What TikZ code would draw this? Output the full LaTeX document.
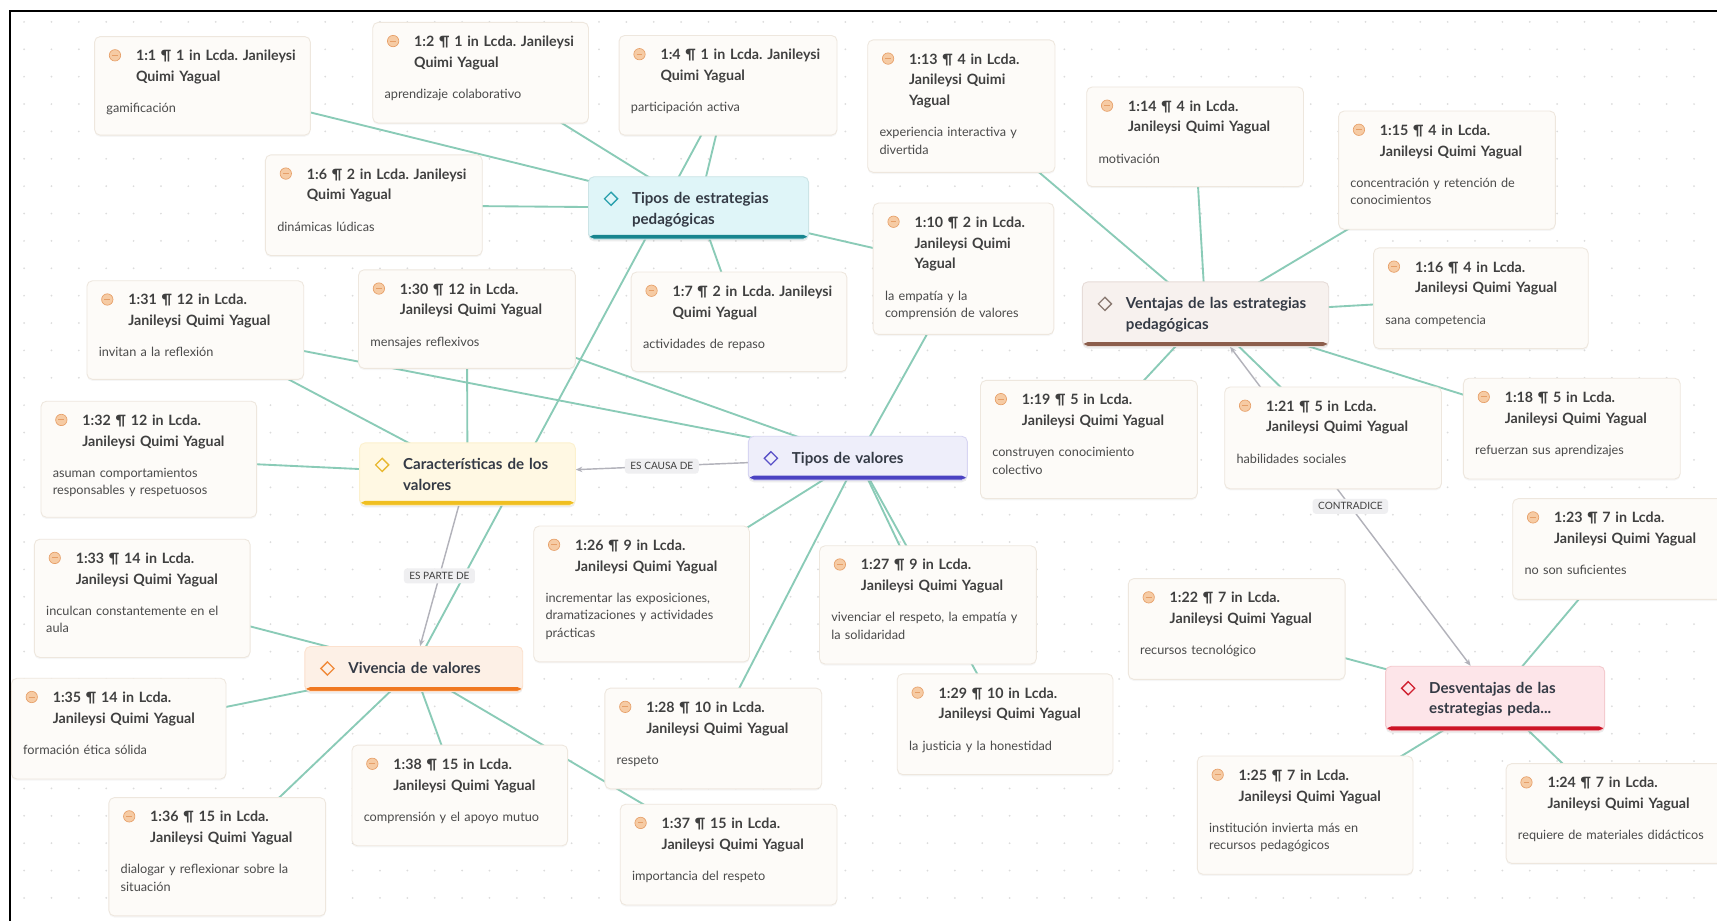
\documentclass[tikz,border=0pt]{standalone}
\usepackage{fontspec}
\setmainfont{Lato}
\usetikzlibrary{shadows,arrows.meta,backgrounds}

\definecolor{linkc}{HTML}{8ACBB7}
\definecolor{relc}{HTML}{B2B2BA}
\definecolor{qfill}{HTML}{FDFBF8}
\definecolor{qdraw}{HTML}{EEE7DE}
\definecolor{qtext}{HTML}{404040}
\definecolor{ctext}{HTML}{4A4A4A}
\definecolor{icfill}{HTML}{F6CBA4}
\definecolor{icdraw}{HTML}{E69F68}
\definecolor{dotc}{HTML}{DCDCDC}
\definecolor{lablc}{HTML}{EFEFF1}
\definecolor{codetext}{HTML}{343A45}
\definecolor{fillA}{HTML}{DFF5F8}\definecolor{barA}{HTML}{17858F}\definecolor{dmA}{HTML}{2AA0AD}
\definecolor{fillB}{HTML}{F7F1EE}\definecolor{barB}{HTML}{8C5E4C}\definecolor{dmB}{HTML}{8A7A72}
\definecolor{fillC}{HTML}{EEEEFA}\definecolor{barC}{HTML}{4A42C2}\definecolor{dmC}{HTML}{5A52C8}
\definecolor{fillD}{HTML}{FFF8E3}\definecolor{barD}{HTML}{F0BF20}\definecolor{dmD}{HTML}{E8B830}
\definecolor{fillE}{HTML}{FDF0E6}\definecolor{barE}{HTML}{F07820}\definecolor{dmE}{HTML}{F08A3A}
\definecolor{fillF}{HTML}{FDE5E9}\definecolor{barF}{HTML}{CD1426}\definecolor{dmF}{HTML}{D02030}

\newcommand\ftitle{\fontsize{13}{19}\selectfont\bfseries}
\newcommand\fcom{\fontsize{11.6}{16}\selectfont}
\newcommand\fcode{\fontsize{13.8}{19}\selectfont\bfseries}
\newcommand\frel{\fontsize{9.2}{10}\selectfont}

\tikzset{
  qbox/.style={draw=qdraw, fill=qfill, rounded corners=5pt, line width=0.8pt,
    inner sep=0pt, anchor=north west,
    drop shadow={opacity=0.07, shadow xshift=0pt, shadow yshift=-1.5pt}},
  qtitle/.style={anchor=base west, inner sep=0pt, text width=#1, align=left,
    font=\ftitle, text=qtext},
  qcom/.style={anchor=base west, inner sep=0pt, text width=#1, align=left,
    font=\fcom, text=ctext},
  cbox/.style={rounded corners=5pt, line width=0.8pt, inner sep=0pt, anchor=north west,
    drop shadow={opacity=0.14, shadow xshift=0pt, shadow yshift=-2pt}},
  ctitle/.style={anchor=base west, inner sep=0pt, text width=240pt, align=left,
    font=\fcode, text=codetext},
  link/.style={draw=linkc, line width=1.7pt},
  rel/.style={draw=relc, line width=1.3pt},
  reltip/.tip={Stealth[length=6pt,width=5pt]},
  rlab/.style={fill=lablc, rounded corners=3pt, inner xsep=5pt, inner ysep=3.5pt,
    font=\frel, text=black!75},
}

% name, x, y, w, h, number of title lines, title, comment
\newcommand\qbx[8]{%
  \node[qbox, minimum width=#4, minimum height=#5] (#1) at (#2,#3) {};
  \filldraw[fill=icfill, draw=icdraw, line width=0.6pt] ([shift={(19,17.5)}]#1.north west) circle[radius=5.2pt];
  \draw[icdraw, line width=0.9pt] ([shift={(16.4,17.5)}]#1.north west) -- ++(5.2,0);
  \node[qtitle=#4] (#1-t) at ([shift={(38,22.5)}]#1.north west) {#7};
  \node[qcom=#4] (#1-c) at ([shift={(11,{51+19*(#6-1)})}]#1.north west) {#8};
}
% name, x, y, w, h, letter, text
\newcommand\cbx[7]{%
  \node[cbox, fill=fill#6, draw=bar#6!22, minimum width=#4, minimum height=#5,
    path picture={\fill[bar#6] ([yshift=4pt]path picture bounding box.south west)
      rectangle (path picture bounding box.south east);}] (#1) at (#2,#3) {};
  \draw[dm#6, line width=1.2pt, fill=fill#6] ([shift={(21,20.5)}]#1.north west)
    +(-6pt,0pt) -- +(0pt,6pt) -- +(6pt,0pt) -- +(0pt,-6pt) -- cycle;
  \node[ctitle] (#1-t) at ([shift={(40,25)}]#1.north west) {#7};
}

\begin{document}
\frenchspacing
\begin{tikzpicture}[x=1pt,y=-1pt]
\useasboundingbox (0,0) rectangle (1568,841);

\begin{scope}[on background layer]
  \fill[white] (0,0) rectangle (1568,841);
  \foreach \i in {0,...,62} {
    \foreach \j in {0,...,33} {
      \fill[dotc] (22+\i*25, 20+\j*25) circle[radius=0.9pt];
    }
  }
\end{scope}

\begin{scope}
\clip (0,0) rectangle (1568,841);

% ---- quotation boxes ----
\qbx{q1}{86}{33}{197}{90}{2}{1:1 ¶ 1 in Lcda. Janileysi\\Quimi Yagual}{gamificación}
\qbx{q2}{340}{20}{197}{92}{2}{1:2 ¶ 1 in Lcda. Janileysi\\Quimi Yagual}{aprendizaje colaborativo}
\qbx{q4}{565}{32}{199}{91}{2}{1:4 ¶ 1 in Lcda. Janileysi\\Quimi Yagual}{participación activa}
\qbx{q13}{792}{36}{171}{121}{3}{1:13 ¶ 4 in Lcda.\\Janileysi Quimi\\Yagual}{experiencia interactiva y\\divertida}
\qbx{q14}{992}{79}{198}{91}{2}{1:14 ¶ 4 in Lcda.\\Janileysi Quimi Yagual}{motivación}
\qbx{q15}{1222}{101}{198}{108}{2}{1:15 ¶ 4 in Lcda.\\Janileysi Quimi Yagual}{concentración y retención de\\conocimientos}
\qbx{q6}{242}{141}{198}{92}{2}{1:6 ¶ 2 in Lcda. Janileysi\\Quimi Yagual}{dinámicas lúdicas}
\qbx{q10}{797}{185}{165}{120}{3}{1:10 ¶ 2 in Lcda.\\Janileysi Quimi\\Yagual}{la empatía y la\\comprensión de valores}
\qbx{q16}{1254}{226}{196}{92}{2}{1:16 ¶ 4 in Lcda.\\Janileysi Quimi Yagual}{sana competencia}
\qbx{q7}{576}{248}{197}{91}{2}{1:7 ¶ 2 in Lcda. Janileysi\\Quimi Yagual}{actividades de repaso}
\qbx{q30}{327}{246}{198}{90}{2}{1:30 ¶ 12 in Lcda.\\Janileysi Quimi Yagual}{mensajes reflexivos}
\qbx{q31}{79}{256}{198}{90}{2}{1:31 ¶ 12 in Lcda.\\Janileysi Quimi Yagual}{invitan a la reflexión}
\qbx{q32}{37}{366}{197}{106}{2}{1:32 ¶ 12 in Lcda.\\Janileysi Quimi Yagual}{asuman comportamientos\\responsables y respetuosos}
\qbx{q19}{895}{347}{198}{108}{2}{1:19 ¶ 5 in Lcda.\\Janileysi Quimi Yagual}{construyen conocimiento\\colectivo}
\qbx{q21}{1118}{353}{198}{93}{2}{1:21 ¶ 5 in Lcda.\\Janileysi Quimi Yagual}{habilidades sociales}
\qbx{q18}{1336}{345}{198}{92}{2}{1:18 ¶ 5 in Lcda.\\Janileysi Quimi Yagual}{refuerzan sus aprendizajes}
\qbx{q23}{1381}{455}{198}{92}{2}{1:23 ¶ 7 in Lcda.\\Janileysi Quimi Yagual}{no son suficientes}
\qbx{q33}{31}{492}{197}{108}{2}{1:33 ¶ 14 in Lcda.\\Janileysi Quimi Yagual}{inculcan constantemente en el\\aula}
\qbx{q26}{487}{480}{197}{124}{2}{1:26 ¶ 9 in Lcda.\\Janileysi Quimi Yagual}{incrementar las exposiciones,\\dramatizaciones y actividades\\prácticas}
\qbx{q27}{748}{498}{198}{108}{2}{1:27 ¶ 9 in Lcda.\\Janileysi Quimi Yagual}{vivenciar el respeto, la empatía y\\la solidaridad}
\qbx{q22}{1030}{528}{198}{92}{2}{1:22 ¶ 7 in Lcda.\\Janileysi Quimi Yagual}{recursos tecnológico}
\qbx{q35}{10}{619}{196}{92}{2}{1:35 ¶ 14 in Lcda.\\Janileysi Quimi Yagual}{formación ética sólida}
\qbx{q28}{552}{628}{198}{92}{2}{1:28 ¶ 10 in Lcda.\\Janileysi Quimi Yagual}{respeto}
\qbx{q29}{819}{615}{197}{92}{2}{1:29 ¶ 10 in Lcda.\\Janileysi Quimi Yagual}{la justicia y la honestidad}
\qbx{q38}{321}{680}{197}{92}{2}{1:38 ¶ 15 in Lcda.\\Janileysi Quimi Yagual}{comprensión y el apoyo mutuo}
\qbx{q25}{1093}{690}{197}{108}{2}{1:25 ¶ 7 in Lcda.\\Janileysi Quimi Yagual}{institución invierta más en\\recursos pedagógicos}
\qbx{q24}{1375}{697}{198}{91}{2}{1:24 ¶ 7 in Lcda.\\Janileysi Quimi Yagual}{requiere de materiales didácticos}
\qbx{q36}{99}{728}{198}{108}{2}{1:36 ¶ 15 in Lcda.\\Janileysi Quimi Yagual}{dialogar y reflexionar sobre la\\situación}
\qbx{q37}{566}{734}{198}{92}{2}{1:37 ¶ 15 in Lcda.\\Janileysi Quimi Yagual}{importancia del respeto}

% ---- code boxes ----
\cbx{A}{537}{161}{201}{57}{A}{Tipos de estrategias\\pedagógicas}
\cbx{B}{988}{257}{225}{59}{B}{Ventajas de las estrategias\\pedagógicas}
\cbx{C}{683}{398}{200}{40}{C}{Tipos de valores}
\cbx{D}{328}{404}{197}{57}{D}{Características de los\\valores}
\cbx{E}{278}{590}{199}{41}{E}{Vivencia de valores}
\cbx{F}{1265}{608}{200}{59}{F}{Desventajas de las\\estrategias peda...}
\end{scope}

% ---- links and relations (behind boxes) ----
\begin{scope}[on background layer]
  \foreach \a/\b in {q1/A, q2/A, q4/A, q6/A, q10/A, q7/A, q4/E,
      q13/B, q14/B, q15/B, q16/B, q18/B, q21/B, q19/B,
      q10/C, q31/C, q30/C, q26/C, q28/C, q27/C, q29/C,
      q30/D, q31/D, q32/D,
      q33/E, q35/E, q36/E, q38/E, q37/E,
      q22/F, q23/F, q25/F, q24/F}
    \draw[link] (\a.center) -- (\b.center);
  \draw[rel, -reltip] (C) -- node[rlab] (l1) {ES CAUSA DE} (D);
  \draw[rel, -reltip] (D) -- node[rlab] (l2) {ES PARTE DE} (E);
  \draw[rel, reltip-reltip] (B) -- node[rlab] (l3) {CONTRADICE} (F);
\end{scope}

% ---- frame ----
\draw[black, line width=1.8pt] (9,841) -- (9,10) -- (1568,10);
\end{tikzpicture}
\end{document}
